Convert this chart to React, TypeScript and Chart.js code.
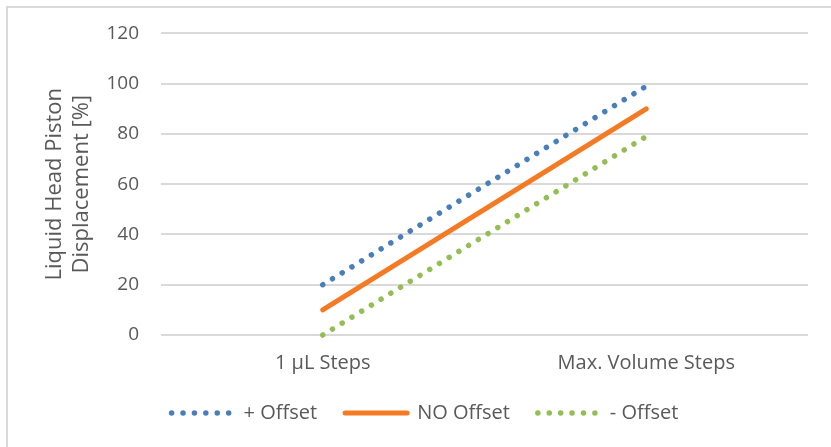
import React, { useEffect, useRef } from "react";
import { Chart, registerables } from "chart.js";

Chart.register(...registerables);

const categories = ["1 µL Steps", "Max. Volume Steps"];
const plusOffset = [20, 99];
const noOffset = [10, 90];
const minusOffset = [0, 79];
const seriesNames = ["+ Offset", "NO Offset", "- Offset"];
const yTitle = ["Liquid Head Piston", "Displacement [%]"];

const FONT = "'Open Sans', 'Noto Sans', sans-serif";
const TXT = "#595959";
const DOTS = [0.01, 11.4];

export default function App() {
  const ref = useRef<HTMLCanvasElement | null>(null);
  useEffect(() => {
    if (!ref.current) return;
    const chart = new Chart(ref.current, {
      type: "line",
      data: {
        labels: categories,
        datasets: [
          {
            label: seriesNames[0],
            data: plusOffset,
            borderColor: "#4a7ebb",
            backgroundColor: "#4a7ebb",
            borderWidth: 5.5,
            borderDash: DOTS,
            borderCapStyle: "round",
            pointRadius: 0,
            clip: false,
          },
          {
            label: seriesNames[1],
            data: noOffset,
            borderColor: "#f47a24",
            backgroundColor: "#f47a24",
            borderWidth: 5,
            borderCapStyle: "round",
            pointRadius: 0,
            clip: false,
          },
          {
            label: seriesNames[2],
            data: minusOffset,
            borderColor: "#92be54",
            backgroundColor: "#92be54",
            borderWidth: 5.5,
            borderDash: DOTS,
            borderCapStyle: "round",
            pointRadius: 0,
            clip: false,
          },
        ],
      },
      options: {
        animation: false,
        responsive: false,
        maintainAspectRatio: false,
        layout: { padding: { left: 42, right: 23, top: 26, bottom: 14 } },
        plugins: {
          tooltip: { enabled: false },
          legend: {
            position: "bottom",
            labels: {
              usePointStyle: true,
              pointStyle: "line",
              pointStyleWidth: 62,
              boxHeight: 20,
              padding: 28,
              color: TXT,
              font: { family: FONT, size: 20 },
              generateLabels: (c: any) => {
                const items = Chart.defaults.plugins.legend.labels.generateLabels(c);
                return items.map((it: any) => {
                  const ds: any = c.data.datasets[it.datasetIndex];
                  return {
                    ...it,
                    lineDash: ds.borderDash || [],
                    lineCap: "round",
                    lineWidth: ds.borderWidth,
                    strokeStyle: ds.borderColor,
                    fillStyle: ds.borderColor,
                    pointStyle: "line",
                  };
                });
              },
            },
          },
        },
        scales: {
          x: {
            offset: true,
            grid: { display: false },
            border: { display: false },
            ticks: { color: TXT, font: { family: FONT, size: 20 }, padding: 8 },
            afterFit: (scale: any) => {
              scale.height = 40;
            },
          },
          y: {
            min: 0,
            max: 120,
            ticks: { stepSize: 20, color: TXT, font: { family: FONT, size: 19 }, padding: 22 },
            grid: { color: "#d9d9d9", lineWidth: 2, drawTicks: false },
            border: { display: false },
            title: {
              display: true,
              text: yTitle,
              color: TXT,
              font: { family: FONT, size: 22 },
              lineHeight: 1.2,
              padding: { top: 0, bottom: 4 },
            },
            afterFit: (scale: any) => {
              scale.width = 119;
            },
          },
        },
      },
    });
    return () => chart.destroy();
  }, []);
  return (
    <div style={{ position: "fixed", left: 0, top: 0, width: 831, height: 447, overflow: "hidden", background: "#fff" }}>
      <div
        style={{
          position: "absolute",
          left: 6,
          top: 6,
          width: 900,
          height: 500,
          borderTop: "2px solid #d9d9d9",
          borderLeft: "2px solid #d9d9d9",
        }}
      />
      <canvas ref={ref} width={831} height={447} style={{ position: "absolute", left: 0, top: 0 }} />
    </div>
  );
}
